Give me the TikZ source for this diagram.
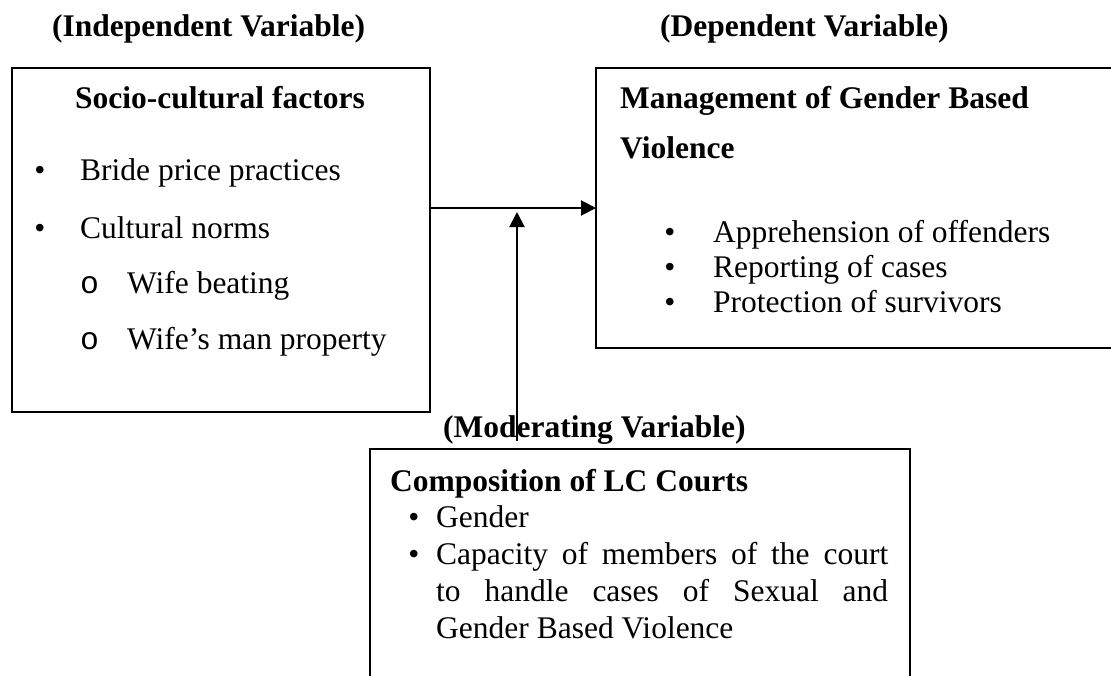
\documentclass[tikz,border=0pt]{standalone}
\usepackage{fontspec}
\setmainfont{Liberation Serif}
\newfontfamily\submark{Liberation Mono}
\usetikzlibrary{arrows.meta}
\begin{document}
\begin{tikzpicture}[x=1pt,y=-1pt,
  txt/.style={anchor=base west, inner sep=0pt, font=\fontsize{31.5}{36.5}\selectfont},
  btxt/.style={anchor=base west, inner sep=0pt, font=\fontsize{31.5}{36.5}\selectfont\bfseries},
  bul/.style={anchor=base, inner sep=0pt, font=\fontsize{31.5}{36.5}\selectfont},
  sub/.style={anchor=base west, inner sep=0pt, font=\fontsize{31.5}{36.5}\submark},
  frame/.style={draw, line width=2pt, anchor=north west, inner sep=0pt, outer sep=0pt},
  conn/.style={line width=2pt, -{Triangle[length=15pt,width=15pt]}}]
\path[use as bounding box] (0,0) rectangle (1111,675);
\clip (0,0) rectangle (1111,675);

% boxes
\node[frame, minimum width=418pt, minimum height=344pt] (lb) at (12,68) {};
\node[frame, minimum width=540pt, minimum height=280pt] (rb) at (596,68) {};
\node[frame, minimum width=540pt, minimum height=260pt] (bb) at (370,449) {};

% headings
\node[btxt] (tind) at (52,36) {(Independent Variable)};
\node[btxt] (tdep) at (660,36) {(Dependent Variable)};

% left box
\node[btxt] (lbh) at (75,108) {Socio-cultural factors};
\node[bul] (lb1b) at (40,180) {•};
\node[txt] (lb1) at (80,180) {Bride price practices};
\node[bul] (lb2b) at (40,238) {•};
\node[txt] (lb2) at (80,238) {Cultural norms};
\node[sub] (lb3b) at (80,293) {o};
\node[txt] (lb3) at (127,293) {Wife beating};
\node[sub] (lb4b) at (80,349) {o};
\node[txt] (lb4) at (127,349) {Wife’s man property};

% right box
\node[btxt] (rbh1) at (620,108) {Management of Gender Based};
\node[btxt] (rbh2) at (620,158) {Violence};
\node[bul] (rb1b) at (670,242) {•};
\node[txt] (rb1) at (713,242) {Apprehension of offenders};
\node[bul] (rb2b) at (670,277) {•};
\node[txt] (rb2) at (713,277) {Reporting of cases};
\node[bul] (rb3b) at (670,312) {•};
\node[txt] (rb3) at (713,312) {Protection of survivors};

% arrows
\draw[conn] (rb.west -| lb.east) -- (rb.west);
\coordinate (modbase) at (517,441);
\coordinate (modtip) at (517,212);
\draw[conn] (modbase) -- (modtip);

% moderating
\node[btxt] (tmod) at (443,437) {(Moderating Variable)};
\node[btxt] (bbh) at (390,491) {Composition of LC Courts};
\node[bul] (bb1b) at (414,527) {•};
\node[txt] (bb1) at (436,527) {Gender};
\node[bul] (bb2b) at (414,564) {•};
\node[txt] (bb2) at (436,564) {\makebox[452pt][s]{Capacity of members of the court}};
\node[txt] (bb3) at (436,601) {\makebox[452pt][s]{to handle cases of Sexual and}};
\node[txt] (bb4) at (436,638) {Gender Based Violence};
\end{tikzpicture}
\end{document}
